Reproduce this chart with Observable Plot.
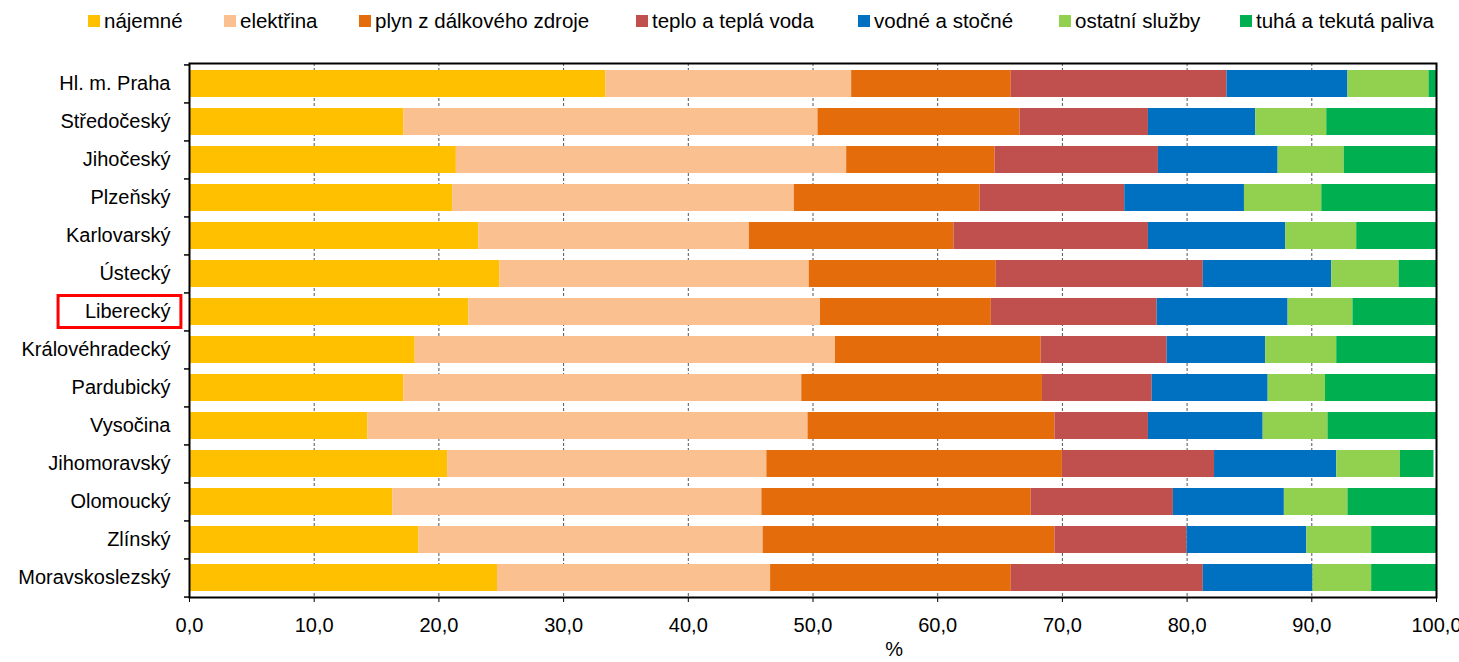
<!DOCTYPE html>
<html><head><meta charset="utf-8">
<script src="https://cdn.jsdelivr.net/npm/d3@7"></script>
<script src="https://cdn.jsdelivr.net/npm/@observablehq/plot@0.6"></script>
<style>
body{margin:0;background:#fff;font-family:"Liberation Sans",Arial,sans-serif;}
#legend{position:relative;height:44px;}
.item{position:absolute;top:9px;display:flex;align-items:center;font-size:20.5px;color:#000;white-space:nowrap;}
.sw{width:12px;height:12px;margin-right:4px;display:inline-block;}
</style></head><body>
<div id="legend"></div><div id="chart"></div>
<script>
const regions = ["Hl. m. Praha","Středočeský","Jihočeský","Plzeňský","Karlovarský","Ústecký","Liberecký","Královéhradecký","Pardubický","Vysočina","Jihomoravský","Olomoucký","Zlínský","Moravskoslezský"];
const series = ["nájemné","elektřina","plyn z dálkového zdroje","teplo a teplá voda","vodné a stočné","ostatní služby","tuhá a tekutá paliva"];
const colors = ["#FFC000","#FAC090","#E46C0A","#C0504D","#0070C0","#92D050","#00B050"];
const najemne  = [33.4,17.2,21.4,21.1,23.2,24.9,22.4,18.1,17.2,14.3,20.7,16.3,18.4,24.7];
const elektrina= [19.7,33.2,31.3,27.4,21.7,24.8,28.2,33.7,31.9,35.3,25.6,29.6,27.6,21.9];
const plyn     = [12.8,16.2,11.9,14.9,16.4,15.0,13.7,16.5,19.3,19.8,23.7,21.6,23.4,19.3];
const teplo    = [17.3,10.3,13.1,11.6,15.6,16.6,13.3,10.1, 8.8, 7.5,12.2,11.4,10.6,15.4];
const vodne    = [ 9.7, 8.6, 9.6, 9.6,11.0,10.3,10.5, 7.9, 9.3, 9.2, 9.8, 8.9, 9.6, 8.8];
const ostatni  = [ 6.5, 5.7, 5.3, 6.2, 5.7, 5.4, 5.2, 5.7, 4.6, 5.2, 5.1, 5.1, 5.2, 4.7];
const tuha     = [ 0.6, 8.8, 7.4, 9.2, 6.4, 3.0, 6.7, 8.0, 8.9, 8.7, 2.7, 7.1, 5.2, 5.2];
const xTicks = [0,10,20,30,40,50,60,70,80,90,100];
const highlighted = "Liberecký";
const legendLeft = [88,224,359,636,858,1059,1240];

const valueLists = [najemne, elektrina, plyn, teplo, vodne, ostatni, tuha];
const data = [];
series.forEach((s, i) => regions.forEach((r, j) => data.push({region: r, series: s, value: valueLists[i][j]})));

const legend = document.getElementById("legend");
series.forEach((s, i) => {
  const it = document.createElement("div");
  it.className = "item";
  it.style.left = legendLeft[i] + "px";
  it.innerHTML = `<span class="sw" style="background:${colors[i]}"></span><span>${s}</span>`;
  legend.appendChild(it);
});

const W = 1459, H = 618, mT = 19, mB = 65, mL = 189, mR = 23;
const step = (H - mT - mB) / regions.length;

const plot = Plot.plot({
  width: W, height: H,
  marginTop: mT, marginBottom: mB, marginLeft: mL, marginRight: mR,
  style: {fontFamily: "'Liberation Sans', Arial, sans-serif", fontSize: "20px", color: "#000", background: "#fff", overflow: "visible"},
  x: {domain: [0, 100], label: null},
  y: {domain: regions, paddingInner: 0.3, paddingOuter: 0.15, label: null},
  color: {domain: series, range: colors},
  marks: [
    Plot.gridX(xTicks.slice(1, -1), {stroke: "#555", strokeOpacity: 1, strokeDasharray: "3,2", strokeWidth: 1}),
    Plot.barX(data, {x: "value", y: "region", fill: "series"}),
    Plot.frame({stroke: "#000", strokeWidth: 2}),
    Plot.axisX({ticks: xTicks, tickSize: 5, tickPadding: 15, tickFormat: d => d.toFixed(1).replace(".", ","), label: null, stroke: "#000"}),
    Plot.axisY({tickSize: 0, tickPadding: 19, label: null}),
    Plot.ruleY(regions, {y: d => d, x1: 0, x2: 0, insetLeft: -5, dy: -step / 2, stroke: "#000", strokeWidth: 1.5}),
    Plot.ruleY([regions[regions.length - 1]], {y: d => d, x1: 0, x2: 0, insetLeft: -5, dy: step / 2, stroke: "#000", strokeWidth: 1.5}),
    Plot.barX([highlighted], {y: d => d, x1: -10.5, x2: -0.65, fill: "none", stroke: "#f00", strokeWidth: 3, insetTop: -2.5, insetBottom: -2.5}),
    Plot.text(["%"], {x: 56.5, frameAnchor: "bottom", dy: 58, text: d => d, fontSize: 20})
  ]
});
document.getElementById("chart").appendChild(plot);
</script>
</body></html>
